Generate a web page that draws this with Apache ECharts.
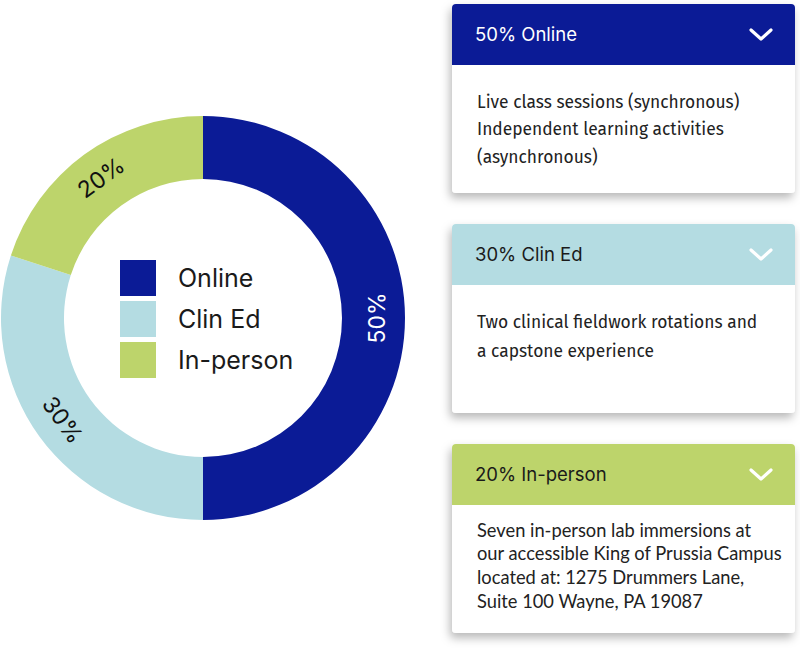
<!DOCTYPE html>
<html>
<head>
<meta charset="utf-8">
<script src="https://cdn.jsdelivr.net/npm/echarts@6/dist/echarts.min.js"></script>
<style>
html,body{margin:0;padding:0;background:#fff;}
#main{width:800px;height:651px;}
</style>
</head>
<body>
<div id="main"></div>
<script>
var categories = ['Online', 'Clin Ed', 'In-person'];
var values = [50, 30, 20];
var sliceColors = ['#0b1b96', '#b4dce2', '#bdd46b'];
var labelColors = ['#ffffff', '#111111', '#111111'];
var headerTextColors = ['#ffffff', '#1a1a1a', '#1a1a1a'];
var cardBodies = [
  ['Live class sessions (synchronous)', 'Independent learning activities', '(asynchronous)'],
  ['Two clinical fieldwork rotations and', 'a capstone experience'],
  ['Seven in-person lab immersions at', 'our accessible King of Prussia Campus', 'located at: 1275 Drummers Lane,', 'Suite 100 Wayne, PA 19087']
];

var chart = echarts.init(document.getElementById('main'), null, {renderer: 'svg'});

var cardTops = [4, 224, 444];
var cardHeights = [189, 189, 189];
var bodyFonts = ['"Fira Sans","Noto Sans",sans-serif', '"Fira Sans","Noto Sans",sans-serif', 'Lato, "Open Sans", sans-serif'];
var bodyFirstY = [104.5, 324.5, 532];
var bodyLineH = [27.5, 29, 23.7];
var bodySize = [17.4, 17.4, 18.3];

var graphics = [];
for (var i = 0; i < categories.length; i++) {
  var t = cardTops[i];
  graphics.push({
    type: 'rect', left: 452, top: t,
    shape: {width: 343, height: cardHeights[i], r: 4},
    style: {fill: '#ffffff', shadowBlur: 10, shadowOffsetX: -2, shadowOffsetY: 5, shadowColor: 'rgba(0,0,0,0.28)'},
    z: 1
  });
  graphics.push({
    type: 'rect', left: 452, top: t,
    shape: {width: 343, height: 61, r: [4, 4, 0, 0]},
    style: {fill: sliceColors[i]},
    z: 2
  });
  graphics.push({
    type: 'text', left: 475, top: t + 20,
    style: {text: values[i] + '% ' + categories[i], fill: headerTextColors[i], font: '18.5px Inter, "Open Sans", sans-serif'},
    z: 3
  });
  graphics.push({
    type: 'polyline',
    shape: {points: [[751, t + 26], [761, t + 35], [771, t + 26]]},
    style: {stroke: '#ffffff', lineWidth: 3.2, fill: null, lineCap: 'round', lineJoin: 'round'},
    z: 3
  });
  for (var j = 0; j < cardBodies[i].length; j++) {
    graphics.push({
      type: 'text', left: 477, top: bodyFirstY[i] + j * bodyLineH[i] - bodySize[i] * 0.62,
      style: {text: cardBodies[i][j], fill: '#222222', font: bodySize[i] + 'px ' + bodyFonts[i]},
      z: 3
    });
  }
}

chart.setOption({
  animation: false,
  backgroundColor: '#ffffff',
  color: sliceColors,
  legend: {
    orient: 'vertical',
    left: 120, top: 260,
    padding: 0,
    itemWidth: 36, itemHeight: 36, itemGap: 5,
    icon: 'rect',
    data: categories,
    selectedMode: false,
    textStyle: {fontSize: 25, color: '#1a1a1a', fontFamily: 'Inter, "Open Sans", sans-serif', padding: [0, 0, 0, 17]}
  },
  graphic: graphics,
  series: [{
    type: 'pie',
    center: [203, 318],
    radius: [139, 202],
    startAngle: 90,
    clockwise: true,
    silent: true,
    label: {
      show: true,
      position: 'inside',
      rotate: 'tangential',
      fontSize: 23,
      fontFamily: 'Inter, "Open Sans", sans-serif',
      formatter: '{c}%'
    },
    labelLine: {show: false},
    data: categories.map(function (c, k) {
      var lbl = {color: labelColors[k]};
      if (k === 0) { lbl.rotate = 90; }
      return {name: c, value: values[k], itemStyle: {color: sliceColors[k]}, label: lbl};
    })
  }]
});
</script>
</body>
</html>
